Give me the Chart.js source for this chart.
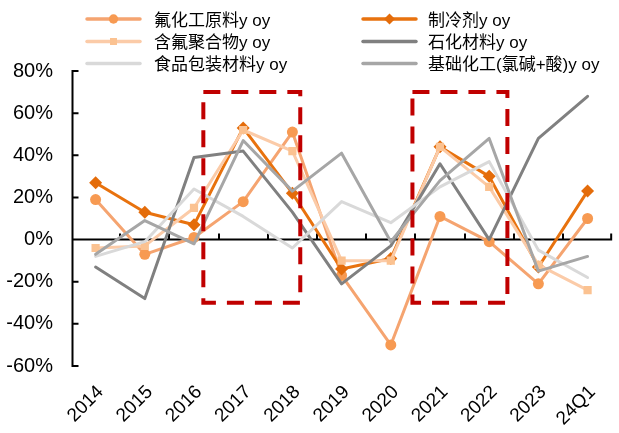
<!DOCTYPE html>
<html>
<head>
<meta charset="utf-8">
<script src="https://cdn.jsdelivr.net/npm/chart.js@4/dist/chart.umd.min.js"></script>
<style>
  html, body { margin: 0; padding: 0; background: #ffffff; }
  #wrap { width: 619px; height: 433px; }
</style>
</head>
<body>
<div id="wrap"><canvas id="c" width="619" height="433"></canvas></div>
<script>
// Year-on-year growth, %
const categories = ['2014', '2015', '2016', '2017', '2018', '2019', '2020', '2021', '2022', '2023', '24Q1'];
const fluoroRawYoy     = [19, -7, 1, 18, 51, -17, -50, 11, -1, -21, 10];
const refrigerantYoy   = [27, 13, 7, 53, 22, -14, -9, 44, 30, -13, 23];
const fluoropolymerYoy = [-4, -3, 15, 52, 42, -10, -10, 44, 25, -12, -24];
const petrochemYoy     = [-13, -28, 39, 42, 13, -21, -3, 36, 0, 48, 68];
const foodPackYoy      = [-8, -1, 24, 11, -4, 18, 8, 25, 37, -5, -18];
const basicChemYoy     = [-7, 9, -2, 47, 23, 41, -1, 28, 48, -15, -8];
const yTicks = [-60, -40, -20, 0, 20, 40, 60, 80];

// Highlighted periods: [from index, to index, top %, bottom %]
const highlightBoxes = [
  [2.19, 4.16, 70, -30],
  [6.44, 8.37, 70, -30]
];

const FONT = '"Liberation Sans", Arial, "Noto Sans CJK SC", sans-serif';

function series(label, data, color, pointColor, pointStyle, radius, order) {
  return {
    label, data, order,
    borderColor: color,
    backgroundColor: pointColor,
    borderWidth: 3,
    borderJoinStyle: 'round',
    borderCapStyle: 'round',
    pointStyle: pointStyle || 'circle',
    pointRadius: pointStyle ? radius : 0,
    pointHoverRadius: pointStyle ? radius : 0,
    pointBackgroundColor: pointColor,
    pointBorderColor: pointColor,
    pointBorderWidth: 0,
    tension: 0,
    fill: false
  };
}

const datasets = [
  series('氟化工原料y oy',        fluoroRawYoy,     '#F5A470', '#F79A52', 'circle', 5.5, 5),
  series('制冷剂y oy',            refrigerantYoy,   '#E8720E', '#E46C0A', 'rectRot', 6.5, 4),
  series('含氟聚合物y oy',        fluoropolymerYoy, '#FBCBA8', '#FBC291', 'rect', 5.8, 3),
  series('石化材料y oy',          petrochemYoy,     '#808080', '#808080', null, 0, 2),
  series('食品包装材料y oy',      foodPackYoy,      '#D9D9D9', '#D9D9D9', null, 0, 1),
  series('基础化工(氯碱+酸)y oy', basicChemYoy,     '#A6A6A6', '#A6A6A6', null, 0, 0)
];

// Axis lines with inward tick marks
const axisDecor = {
  id: 'axisDecor',
  beforeDatasetsDraw(chart) {
    const { ctx, chartArea, scales } = chart;
    const x = scales.x, y = scales.y;
    const y0 = y.getPixelForValue(0);
    const axisX = chartArea.left + 1.5;
    ctx.save();
    ctx.strokeStyle = '#000000';
    ctx.lineWidth = 2;
    ctx.beginPath();
    ctx.moveTo(axisX, y.getPixelForValue(80));
    ctx.lineTo(axisX, y.getPixelForValue(-60));
    yTicks.forEach(v => {
      const py = y.getPixelForValue(v);
      ctx.moveTo(axisX - 1, py);
      ctx.lineTo(axisX + 6, py);
    });
    ctx.moveTo(axisX, y0);
    ctx.lineTo(chartArea.right, y0);
    for (let i = 0; i <= categories.length - 1; i++) {
      const px = Math.round(x.getPixelForValue(i + 0.5));
      const xx = Math.min(px, chartArea.right - 1);
      ctx.moveTo(xx, y0);
      ctx.lineTo(xx, y0 - 6);
    }
    ctx.stroke();
    ctx.restore();
  }
};

// Dashed frames around highlighted periods
const highlightFrames = {
  id: 'highlightFrames',
  afterDatasetsDraw(chart) {
    const { ctx, scales } = chart;
    ctx.save();
    ctx.strokeStyle = '#C00000';
    ctx.lineWidth = 4;
    ctx.setLineDash([17, 11]);
    highlightBoxes.forEach(([a, b, top, bottom]) => {
      const l = scales.x.getPixelForValue(a);
      const r = scales.x.getPixelForValue(b);
      const t = scales.y.getPixelForValue(top);
      const bt = scales.y.getPixelForValue(bottom);
      ctx.strokeRect(l, t, r - l, bt - t);
    });
    ctx.restore();
  }
};

// Two-column legend
const columnLegend = {
  id: 'columnLegend',
  afterDraw(chart) {
    const { ctx } = chart;
    const colX = [87, 363];
    const textX = [154, 428];
    const rowY = [19, 41.5, 63.5];
    const sampleLen = 53;
    ctx.save();
    chart.data.datasets.forEach((ds, i) => {
      const c = i % 2, r = Math.floor(i / 2);
      const x0 = colX[c], yy = rowY[r];
      ctx.strokeStyle = ds.borderColor;
      ctx.lineWidth = 3.5;
      ctx.lineCap = 'round';
      ctx.beginPath();
      ctx.moveTo(x0, yy);
      ctx.lineTo(x0 + sampleLen, yy);
      ctx.stroke();
      if (ds.pointRadius > 0) {
        ctx.fillStyle = ds.pointBackgroundColor;
        ctx.strokeStyle = ds.pointBackgroundColor;
        Chart.helpers.drawPoint(ctx, {
          pointStyle: ds.pointStyle,
          radius: ds.pointRadius * 0.85,
          rotation: 0,
          borderWidth: 0
        }, x0 + sampleLen / 2, yy);
      }
      ctx.fillStyle = '#000000';
      ctx.font = '17px ' + FONT;
      ctx.textAlign = 'left';
      ctx.textBaseline = 'middle';
      ctx.fillText(ds.label, textX[c], yy + 2);
    });
    ctx.restore();
  }
};

new Chart(document.getElementById('c'), {
  type: 'line',
  data: { labels: categories, datasets },
  plugins: [axisDecor, highlightFrames, columnLegend],
  options: {
    responsive: false,
    devicePixelRatio: 1,
    animation: false,
    layout: { padding: { top: 71, right: 1, left: 0, bottom: 0 } },
    plugins: { legend: { display: false }, tooltip: { enabled: false } },
    scales: {
      x: {
        offset: true,
        grid: { display: false, drawTicks: false },
        border: { display: false },
        ticks: {
          color: '#000000',
          font: { family: FONT, size: 19 },
          maxRotation: 45,
          minRotation: 45,
          padding: 15,
          labelOffset: 5,
          autoSkip: false
        },
        afterFit(scale) { scale.height = 67; }
      },
      y: {
        min: -60,
        max: 80,
        grid: { display: false, drawTicks: false },
        border: { display: false },
        ticks: {
          stepSize: 20,
          color: '#000000',
          font: { family: FONT, size: 20 },
          padding: 18,
          callback: v => v + '%'
        },
        afterFit(scale) { scale.width = 71; }
      }
    }
  }
});
</script>
</body>
</html>
